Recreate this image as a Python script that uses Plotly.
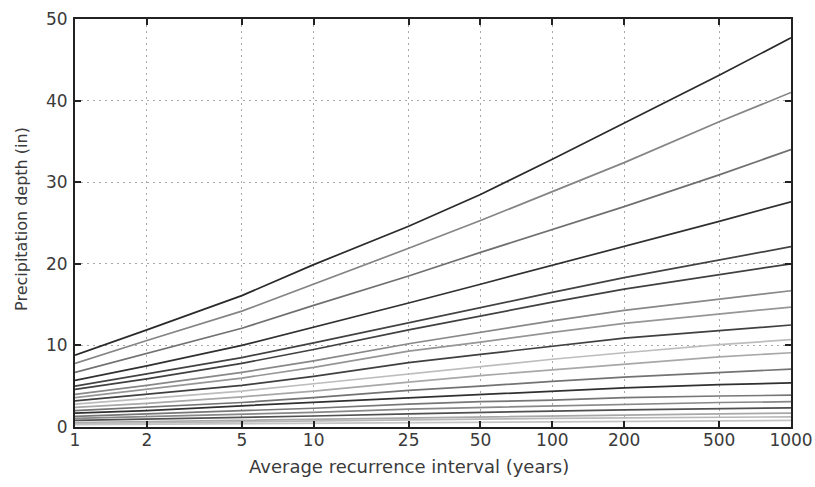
import plotly.graph_objects as go

ari = [1, 2, 5, 10, 25, 50, 100, 200, 500, 1000]
ari_labels = ["1", "2", "5", "10", "25", "50", "100", "200", "500", "1000"]

durations = ["60-day", "45-day", "30-day", "20-day", "10-day", "7-day", "4-day", "3-day",
             "2-day", "24-hr", "12-hr", "6-hr", "3-hr", "2-hr", "60-min", "30-min",
             "15-min", "10-min", "5-min"]

d60day = [8.8, 11.9, 16.1, 19.9, 24.6, 28.5, 32.8, 37.2, 43.1, 47.7]
d45day = [7.8, 10.6, 14.2, 17.5, 21.9, 25.3, 28.8, 32.4, 37.4, 41.0]
d30day = [6.7, 9.0, 12.1, 14.9, 18.5, 21.4, 24.2, 27.0, 30.9, 34.0]
d20day = [5.7, 7.5, 10.0, 12.2, 15.2, 17.5, 19.8, 22.1, 25.2, 27.6]
d10day = [5.0, 6.5, 8.5, 10.3, 12.8, 14.7, 16.5, 18.3, 20.5, 22.1]
d7day = [4.6, 5.9, 7.8, 9.5, 11.9, 13.6, 15.3, 16.9, 18.7, 20.0]
d4day = [4.0, 5.1, 6.7, 8.1, 10.2, 11.6, 13.0, 14.3, 15.7, 16.7]
d3day = [3.6, 4.6, 6.0, 7.3, 9.3, 10.4, 11.6, 12.7, 13.8, 14.7]
d2day = [3.2, 4.0, 5.1, 6.2, 7.9, 8.9, 9.9, 10.9, 11.8, 12.5]
d24hr = [2.8, 3.5, 4.4, 5.3, 6.5, 7.4, 8.3, 9.1, 10.1, 10.7]
d12hr = [2.4, 2.9, 3.7, 4.4, 5.5, 6.3, 7.0, 7.7, 8.6, 9.1]
d6hr = [2.0, 2.4, 3.0, 3.6, 4.5, 5.0, 5.6, 6.1, 6.7, 7.1]
d3hr = [1.7, 2.0, 2.6, 3.0, 3.6, 4.0, 4.4, 4.8, 5.2, 5.4]
d2hr = [1.3, 1.6, 2.0, 2.3, 2.8, 3.1, 3.3, 3.6, 3.8, 3.9]
d60min = [1.05, 1.25, 1.55, 1.8, 2.2, 2.4, 2.6, 2.8, 3.0, 3.1]
d30min = [0.8, 0.95, 1.2, 1.35, 1.6, 1.8, 1.95, 2.1, 2.25, 2.35]
d15min = [0.55, 0.67, 0.82, 0.95, 1.15, 1.27, 1.4, 1.5, 1.62, 1.7]
d10min = [0.42, 0.5, 0.62, 0.72, 0.86, 0.96, 1.05, 1.12, 1.2, 1.25]
d5min = [0.28, 0.33, 0.41, 0.47, 0.56, 0.62, 0.68, 0.73, 0.78, 0.8]

series = [d60day, d45day, d30day, d20day, d10day, d7day, d4day, d3day, d2day, d24hr,
          d12hr, d6hr, d3hr, d2hr, d60min, d30min, d15min, d10min, d5min]

colors = ["#2a2a2a", "#858585", "#707070", "#303030", "#424242", "#404040", "#888888",
          "#969696", "#404040", "#bdbdbd", "#a8a8a8", "#737373", "#303030", "#777777",
          "#888888", "#505050", "#a8a8a8", "#b8b8b8", "#c5c5c5"]

x_title = "Average recurrence interval (years)"
y_title = "Precipitation depth (in)"

fig = go.Figure()
for name, vals, col in zip(durations, series, colors):
    fig.add_trace(go.Scatter(x=ari, y=vals, mode="lines", name=name,
                             line=dict(color=col, width=1.7), showlegend=False))

font = dict(family="DejaVu Sans", size=17, color="#3a3a3a")

fig.update_layout(
    width=815, height=487,
    margin=dict(l=75, r=24, t=19, b=60),
    paper_bgcolor="white", plot_bgcolor="white",
    font=font,
    xaxis=dict(
        type="log", range=[0, 3], automargin=False,
        tickvals=ari, ticktext=ari_labels,
        ticks="inside", ticklen=6, tickcolor="#222", tickwidth=1.5,
        showline=True, linecolor="#222", linewidth=1.8, mirror="ticks",
        showgrid=True, gridcolor="#a8a8a8", griddash="2px,4px", gridwidth=1.2,
        ticklabelstandoff=-3, ticklabeloverflow="allow", tickfont=font,
    ),
    yaxis=dict(
        range=[0, 50], tickvals=[0, 10, 20, 30, 40, 50], automargin=False,
        ticks="inside", ticklen=6, tickcolor="#222", tickwidth=1.5,
        showline=True, linecolor="#222", linewidth=1.8, mirror="ticks",
        showgrid=True, gridcolor="#a8a8a8", griddash="2px,4px", gridwidth=1.2,
        zeroline=False, ticklabelstandoff=2, tickfont=font,
    ),
    annotations=[
        dict(text=x_title, xref="paper", yref="paper", x=0.4658, y=-0.098,
             xanchor="center", yanchor="middle", showarrow=False,
             font=dict(family="DejaVu Sans", size=18, color="#3a3a3a")),
        dict(text=y_title, xref="paper", yref="paper", x=-0.074, y=0.51,
             xanchor="center", yanchor="middle", showarrow=False, textangle=-90,
             font=dict(family="DejaVu Sans", size=16, color="#3a3a3a")),
    ],
)

fig.write_html(
    "out.html",
    config={"displayModeBar": False},
    post_script="document.body.style.margin='0px';document.body.style.overflow='hidden';",
)
